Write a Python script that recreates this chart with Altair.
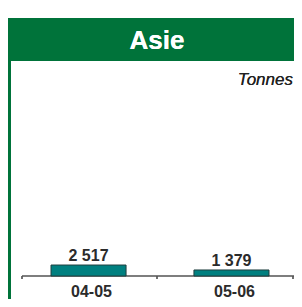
import altair as alt
import pandas as pd

categories = ["04-05", "05-06"]
values = [2517, 1379]
value_labels = ["2 517", "1 379"]
title_text = "Asie"
unit_text = "Tonnes"

df = pd.DataFrame({"cat": categories, "val": values, "lab": value_labels})

GREEN = "#00733A"
TEAL = "#008080"
FONT = "Liberation Sans"

W, H = 286, 291
AX = 268

xscale = alt.Scale(domain=categories, range=[43, 261], paddingInner=0.475, paddingOuter=0)
yscale = alt.Scale(domain=[0, 44000], range=[AX, AX - 192])

base = alt.Chart(df)

header = base.mark_rect(color=GREEN).encode(
    x=alt.value(1), x2=alt.value(W), y=alt.value(10), y2=alt.value(53)
)
border = base.mark_rect(color=GREEN).encode(
    x=alt.value(0), x2=alt.value(3), y=alt.value(10), y2=alt.value(H)
)
title = base.mark_text(text=title_text, font=FONT, fontSize=26, fontWeight="bold",
                       color="white", align="center", baseline="middle").encode(
    x=alt.value(149), y=alt.value(33)
)
unit = base.mark_text(text=unit_text, font=FONT, fontSize=17, fontStyle="italic",
                      color="#222222", align="right", baseline="alphabetic").encode(
    x=alt.value(285), y=alt.value(77)
)
axis_line = base.mark_rule(color="#555555", strokeWidth=1.2).encode(
    x=alt.value(14), x2=alt.value(286), y=alt.value(AX)
)
ticks = alt.layer(*[
    base.mark_rule(color="#555555", strokeWidth=1.2).encode(
        x=alt.value(tx), y=alt.value(AX), y2=alt.value(AX + 3))
    for tx in [14, 149, 285]
])

bars = base.mark_bar(color=TEAL, stroke="#1F3F3F", strokeWidth=1).encode(
    x=alt.X("cat:N", scale=xscale, axis=None),
    y=alt.Y("val:Q", scale=yscale, axis=None),
)
vlabels = base.mark_text(font=FONT, fontSize=16, fontWeight="bold", color="#2B2B2B",
                         baseline="alphabetic", dy=-4).encode(
    x=alt.X("cat:N", scale=xscale, axis=None),
    y=alt.Y("val:Q", scale=yscale, axis=None),
    text="lab:N",
)
clabels = base.mark_text(font=FONT, fontSize=16, fontWeight="bold", color="#2B2B2B",
                         baseline="middle", dx=3).encode(
    x=alt.X("cat:N", scale=xscale, axis=None),
    y=alt.value(284),
    text="cat:N",
)

chart = alt.layer(header, border, title, unit, axis_line, ticks, bars, vlabels, clabels).properties(
    width=W, height=H, padding=0, autosize="none", background="white"
).configure_view(stroke=None)

chart.save("out.html", embed_options={"renderer": "svg", "actions": False})
